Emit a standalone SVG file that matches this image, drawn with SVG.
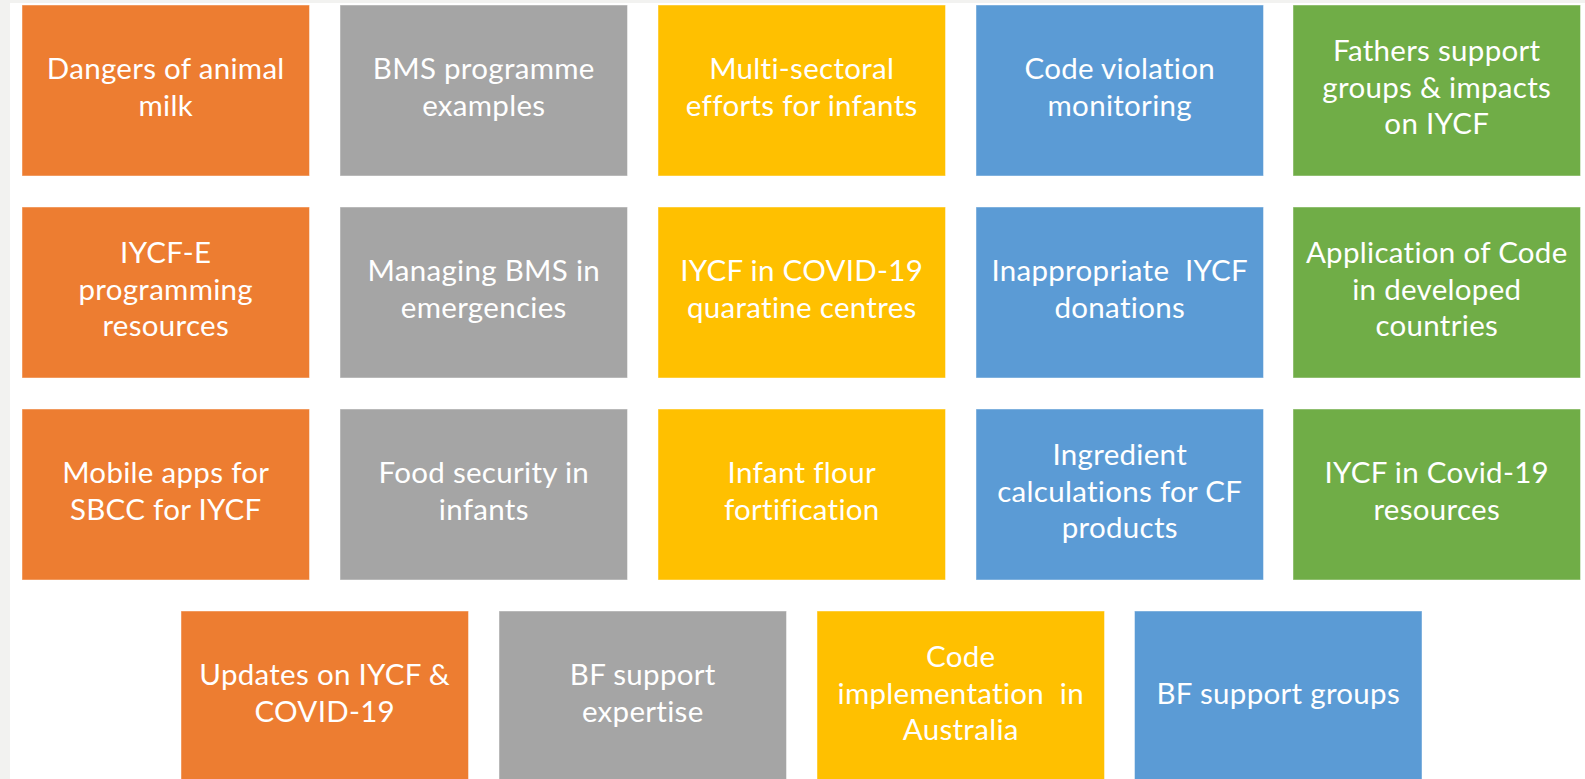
<svg xmlns="http://www.w3.org/2000/svg" width="1585" height="779" viewBox="0 0 1585 779">
<style>
.bg{fill:#ffffff}
.strip{fill:#f2f2f0}
.box{stroke:#ffffff;stroke-opacity:0.45;stroke-width:1}
.o{fill:#ed7d31}.g{fill:#a5a5a5}.y{fill:#ffc000}.b{fill:#5b9bd5}.gr{fill:#70ad47}
text{font-family:Lato,"Open Sans","Liberation Sans",sans-serif;font-size:29.5px;letter-spacing:0.3px;fill:#ffffff;text-anchor:middle;white-space:pre;font-variant-ligatures:none}
</style>
<rect class="bg" x="0" y="0" width="1585" height="779"/>
<rect class="strip" x="0" y="0" width="10" height="779"/>
<rect class="strip" x="0" y="0" width="1585" height="3"/>
<g id="connectors"/>
<g id="n1"><rect class="box o" x="22" y="5" width="287.5" height="171"/><text x="165.75" y="79.25">Dangers of animal</text><text x="165.75" y="115.75">milk</text></g>
<g id="n2"><rect class="box g" x="340" y="5" width="287.5" height="171"/><text x="483.75" y="79.25">BMS programme</text><text x="483.75" y="115.75">examples</text></g>
<g id="n3"><rect class="box y" x="658" y="5" width="287.5" height="171"/><text x="801.75" y="79.25">Multi-sectoral</text><text x="801.75" y="115.75">efforts for infants</text></g>
<g id="n4"><rect class="box b" x="976" y="5" width="287.5" height="171"/><text x="1119.75" y="79.25">Code violation</text><text x="1119.75" y="115.75">monitoring</text></g>
<g id="n5"><rect class="box gr" x="1293" y="5" width="287.5" height="171"/><text x="1436.75" y="61">Fathers support</text><text x="1436.75" y="97.5">groups &amp; impacts</text><text x="1436.75" y="134">on IYCF</text></g>

<g id="n6"><rect class="box o" x="22" y="207" width="287.5" height="171"/><text x="165.75" y="263">IYCF-E</text><text x="165.75" y="299.5">programming</text><text x="165.75" y="336">resources</text></g>
<g id="n7"><rect class="box g" x="340" y="207" width="287.5" height="171"/><text x="483.75" y="281.25">Managing BMS in</text><text x="483.75" y="317.75">emergencies</text></g>
<g id="n8"><rect class="box y" x="658" y="207" width="287.5" height="171"/><text x="801.75" y="281.25">IYCF in COVID-19</text><text x="801.75" y="317.75">quaratine centres</text></g>
<g id="n9"><rect class="box b" x="976" y="207" width="287.5" height="171"/><text x="1119.75" y="281.25">Inappropriate  IYCF</text><text x="1119.75" y="317.75">donations</text></g>
<g id="n10"><rect class="box gr" x="1293" y="207" width="287.5" height="171"/><text x="1436.75" y="263">Application of Code</text><text x="1436.75" y="299.5">in developed</text><text x="1436.75" y="336">countries</text></g>

<g id="n11"><rect class="box o" x="22" y="409" width="287.5" height="171"/><text x="165.75" y="483.25">Mobile apps for</text><text x="165.75" y="519.75">SBCC for IYCF</text></g>
<g id="n12"><rect class="box g" x="340" y="409" width="287.5" height="171"/><text x="483.75" y="483.25">Food security in</text><text x="483.75" y="519.75">infants</text></g>
<g id="n13"><rect class="box y" x="658" y="409" width="287.5" height="171"/><text x="801.75" y="483.25">Infant flour</text><text x="801.75" y="519.75">fortification</text></g>
<g id="n14"><rect class="box b" x="976" y="409" width="287.5" height="171"/><text x="1119.75" y="465">Ingredient</text><text x="1119.75" y="501.5">calculations for CF</text><text x="1119.75" y="538">products</text></g>
<g id="n15"><rect class="box gr" x="1293" y="409" width="287.5" height="171"/><text x="1436.75" y="483.25">IYCF in Covid-19</text><text x="1436.75" y="519.75">resources</text></g>

<g id="n16"><rect class="box o" x="181" y="611" width="287.5" height="175"/><text x="324.75" y="685.25">Updates on IYCF &amp;</text><text x="324.75" y="721.75">COVID-19</text></g>
<g id="n17"><rect class="box g" x="499" y="611" width="287.5" height="175"/><text x="642.75" y="685.25">BF support</text><text x="642.75" y="721.75">expertise</text></g>
<g id="n18"><rect class="box y" x="817" y="611" width="287.5" height="175"/><text x="960.75" y="667">Code</text><text x="960.75" y="703.5">implementation  in</text><text x="960.75" y="740">Australia</text></g>
<g id="n19"><rect class="box b" x="1134.5" y="611" width="287.5" height="175"/><text x="1278.25" y="703.5">BF support groups</text></g>
</svg>
